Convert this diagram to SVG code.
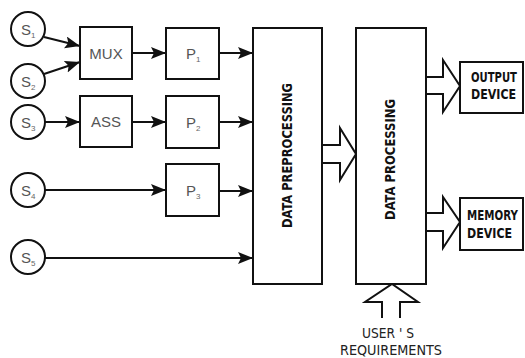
<svg xmlns="http://www.w3.org/2000/svg" width="525" height="358" viewBox="0 0 525 358">
<defs>
<style>
.ln{stroke:#111;stroke-width:2;fill:none}
.bx{stroke:#111;stroke-width:2;fill:#fff}
.lbl{font-family:"Liberation Sans","DejaVu Sans",sans-serif;font-size:15px;fill:#555}
.sub{font-family:"Liberation Sans","DejaVu Sans",sans-serif;font-size:8px;fill:#666}
.bold{font-family:"Liberation Sans Narrow","DejaVu Sans Condensed","Liberation Sans",sans-serif;font-weight:bold;font-size:14px;fill:#111}
.thin{font-family:"Liberation Sans Narrow","DejaVu Sans Condensed","Liberation Sans",sans-serif;font-size:14px;fill:#222}
</style>
<marker id="ah" markerUnits="userSpaceOnUse" markerWidth="16" markerHeight="14" refX="15" refY="6" orient="auto">
<path d="M0,0 L15,6 L0,12 L3,6 Z" fill="#111"/>
</marker>
</defs>
<rect width="525" height="358" fill="#fff"/>

<g id="connectors">
<line class="ln" x1="44" y1="37" x2="80" y2="46" marker-end="url(#ah)"/>
<line class="ln" x1="44" y1="74" x2="80" y2="62" marker-end="url(#ah)"/>
<line class="ln" x1="132" y1="53" x2="166" y2="53" marker-end="url(#ah)"/>
<line class="ln" x1="45" y1="122" x2="80" y2="122" marker-end="url(#ah)"/>
<line class="ln" x1="132" y1="122" x2="166" y2="122" marker-end="url(#ah)"/>
<line class="ln" x1="45" y1="190" x2="166" y2="190" marker-end="url(#ah)"/>
<line class="ln" x1="219" y1="53" x2="253" y2="53" marker-end="url(#ah)"/>
<line class="ln" x1="219" y1="122" x2="253" y2="122" marker-end="url(#ah)"/>
<line class="ln" x1="219" y1="191" x2="253" y2="191" marker-end="url(#ah)"/>
<line class="ln" x1="45" y1="258" x2="253" y2="258" marker-end="url(#ah)"/>
<polyline class="ln" points="322,145 340,145 340,128 356,154 340,180 340,163 322,163"/>
<polyline class="ln" points="426,77 443,77 443,60 460,86 443,112 443,94 426,94"/>
<polyline class="ln" points="426,213 443,213 443,197 460,222 443,248 443,231 426,231"/>
<polyline class="ln" points="382,318 382,302 365,302 392,284 418,302 400,302 400,318"/>
</g>

<g id="s1"><circle class="bx" cx="28" cy="29" r="17"/><text class="lbl" x="21" y="35">S</text><text class="sub" x="31" y="38">1</text></g>
<g id="s2"><circle class="bx" cx="28" cy="81" r="17"/><text class="lbl" x="21" y="87">S</text><text class="sub" x="31" y="90">2</text></g>
<g id="s3"><circle class="bx" cx="28" cy="122" r="17"/><text class="lbl" x="21" y="128">S</text><text class="sub" x="31" y="131">3</text></g>
<g id="s4"><circle class="bx" cx="28" cy="190" r="17"/><text class="lbl" x="21" y="196">S</text><text class="sub" x="31" y="199">4</text></g>
<g id="s5"><circle class="bx" cx="28" cy="257" r="17"/><text class="lbl" x="21" y="263">S</text><text class="sub" x="31" y="266">5</text></g>

<g id="mux"><rect class="bx" x="80" y="27" width="52" height="52"/><text class="lbl" x="106" y="59" text-anchor="middle">MUX</text></g>
<g id="ass"><rect class="bx" x="80" y="96" width="52" height="51"/><text class="lbl" x="106" y="127" text-anchor="middle">ASS</text></g>

<g id="p1"><rect class="bx" x="166" y="28" width="53" height="51"/><text class="lbl" x="186" y="59">P</text><text class="sub" x="196" y="62">1</text></g>
<g id="p2"><rect class="bx" x="166" y="96" width="53" height="52"/><text class="lbl" x="186" y="128">P</text><text class="sub" x="196" y="131">2</text></g>
<g id="p3"><rect class="bx" x="166" y="164" width="53" height="52"/><text class="lbl" x="186" y="196">P</text><text class="sub" x="196" y="199">3</text></g>

<g id="preprocessing"><rect class="bx" x="253" y="28" width="69" height="256"/>
<text class="bold" transform="translate(292,228) rotate(-90)" textLength="145" lengthAdjust="spacingAndGlyphs">DATA PREPROCESSING</text></g>

<g id="processing"><rect class="bx" x="356" y="28" width="70" height="256"/>
<text class="bold" transform="translate(395,220) rotate(-90)" textLength="121" lengthAdjust="spacingAndGlyphs">DATA PROCESSING</text></g>

<g id="output"><rect class="bx" x="460" y="62" width="63" height="51"/>
<text class="bold" transform="translate(471,82) scale(0.82,1)" textLength="56" lengthAdjust="spacingAndGlyphs">OUTPUT</text>
<text class="bold" transform="translate(471,99) scale(0.82,1)" textLength="55" lengthAdjust="spacingAndGlyphs">DEVICE</text></g>

<g id="memory"><rect class="bx" x="460" y="198" width="63" height="52"/>
<text class="bold" transform="translate(467,220) scale(0.82,1)" textLength="62" lengthAdjust="spacingAndGlyphs">MEMORY</text>
<text class="bold" transform="translate(467,238) scale(0.82,1)" textLength="55" lengthAdjust="spacingAndGlyphs">DEVICE</text></g>

<g id="users">
<text class="thin" x="362" y="338" textLength="52" lengthAdjust="spacingAndGlyphs">USER ' S</text>
<text class="thin" x="340" y="355" textLength="102" lengthAdjust="spacingAndGlyphs">REQUIREMENTS</text>
</g>
</svg>
